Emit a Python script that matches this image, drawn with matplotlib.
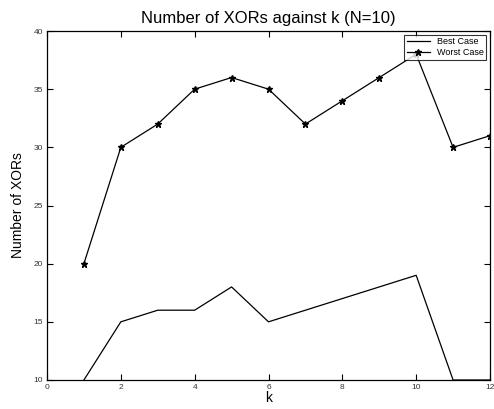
import matplotlib
matplotlib.use('Agg')
import matplotlib.pyplot as plt

plt.rcParams['font.family'] = ['Liberation Sans', 'DejaVu Sans']

k = [1, 2, 3, 4, 5, 6, 7, 8, 9, 10, 11, 12]
best_case = [10, 15, 16, 16, 18, 15, 16, 17, 18, 19, 10, 10]
worst_case = [20, 30, 32, 35, 36, 35, 32, 34, 36, 38, 30, 31]
xticks = [0, 2, 4, 6, 8, 10, 12]
yticks = [10, 15, 20, 25, 30, 35, 40]

fig = plt.figure(figsize=(4.94, 4.09), dpi=100)
ax = fig.add_axes([47/494, 1 - 380/409, 443/494, 349/409])

ax.plot(k, best_case, color='black', linewidth=0.9, label='Best Case')
ax.plot(k, worst_case, color='black', linewidth=0.9, marker='*',
        markersize=5, label='Worst Case')

ax.set_xlim(0, 12)
ax.set_ylim(10, 40)
ax.set_xticks(xticks)
ax.set_yticks(yticks)
ax.tick_params(direction='in', top=True, right=True, labelsize=6,
               labelcolor='#333333', length=4, width=0.8, pad=3)
for s in ax.spines.values():
    s.set_linewidth(0.9)

ax.set_xlabel('k', fontsize=10, labelpad=0)
ax.set_ylabel('Number of XORs', fontsize=10, labelpad=6)
ax.set_title('Number of XORs against k (N=10)', fontsize=12, pad=6)

leg = ax.legend(loc='upper right', fontsize=6.5, frameon=True, fancybox=False,
                edgecolor='black', borderpad=0.3, handlelength=2.5,
                labelspacing=0.2, borderaxespad=0.4)
leg.get_frame().set_linewidth(0.8)

fig.savefig('out.png', dpi=100)
